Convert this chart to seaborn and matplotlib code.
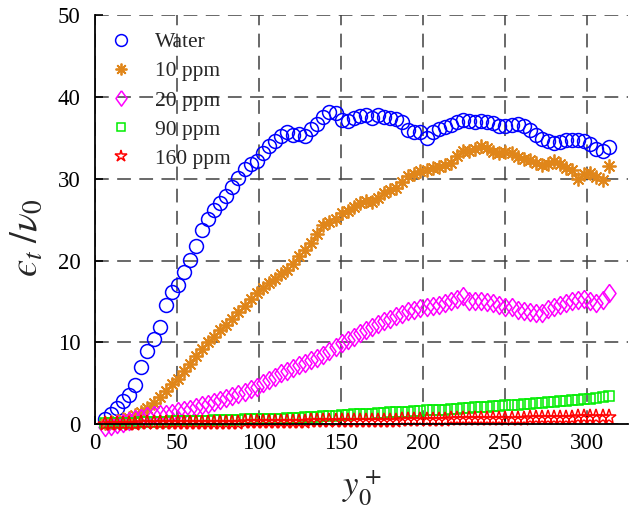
import numpy as np
import pandas as pd
import matplotlib
matplotlib.use("Agg")
import matplotlib.pyplot as plt
import seaborn as sns

# ---------------- data ----------------
y_plus = [6.0, 9.7, 13.4, 17.1, 20.8, 24.5, 28.2, 31.9, 35.6, 39.3,
          43.0, 46.7, 50.4, 54.1, 57.8, 61.5, 65.2, 68.9, 72.6, 76.3,
          80.0, 83.7, 87.4, 91.1, 94.8, 98.5, 102.2, 105.9, 109.6, 113.3,
          117.0, 120.7, 124.4, 128.1, 131.8, 135.5, 139.2, 142.9, 146.6, 150.3,
          154.0, 157.7, 161.4, 165.1, 168.8, 172.5, 176.2, 179.9, 183.6, 187.3,
          191.0, 194.7, 198.4, 202.1, 205.8, 209.5, 213.2, 216.9, 220.6, 224.3,
          228.0, 231.7, 235.4, 239.1, 242.8, 246.5, 250.2, 253.9, 257.6, 261.3,
          265.0, 268.7, 272.4, 276.1, 279.8, 283.5, 287.2, 290.9, 294.6, 298.3,
          302.0, 305.7, 309.4, 313.1]

water = [0.7, 1.3, 2.0, 2.8, 3.6, 4.8, 7.0, 9.0, 10.4, 11.9,
         14.6, 16.2, 17.0, 18.6, 20.1, 21.8, 23.7, 25.1, 26.2, 27.0,
         27.9, 29.0, 30.1, 31.2, 31.8, 32.2, 33.1, 34.0, 34.6, 35.2,
         35.7, 35.3, 35.5, 35.2, 36.1, 36.7, 37.5, 38.2, 38.0, 37.2,
         37.1, 37.4, 37.7, 37.8, 37.4, 37.8, 37.5, 37.4, 37.3, 36.9,
         35.9, 35.7, 35.7, 35.0, 35.7, 36.1, 36.3, 36.6, 36.9, 37.2,
         37.0, 36.9, 37.1, 36.9, 36.8, 36.4, 36.4, 36.6, 36.7, 36.4,
         36.0, 35.3, 34.9, 34.6, 34.4, 34.5, 34.7, 34.7, 34.7, 34.6,
         34.3, 33.6, 33.4, 33.9]

ppm10 = [0.2, 0.3, 0.4, 0.6, 0.8, 1.1, 1.5, 2.0, 2.6, 3.3,
         4.1, 4.9, 5.5, 6.5, 7.4, 8.3, 9.2, 10.1, 10.7, 11.5,
         12.1, 12.9, 13.7, 14.5, 15.3, 16.0, 16.6, 17.2, 17.7, 18.4,
         18.9, 19.6, 20.5, 21.3, 22.2, 23.2, 24.3, 24.7, 25.1, 25.8,
         26.1, 26.5, 27.0, 27.3, 27.1, 27.6, 28.2, 28.6, 28.9, 29.6,
         30.3, 30.6, 30.9, 31.1, 31.3, 31.4, 31.7, 31.9, 32.8, 33.4,
         33.4, 33.6, 34.0, 33.8, 33.3, 33.2, 33.3, 33.1, 32.7, 32.4,
         32.3, 31.9, 31.7, 31.8, 32.2, 31.8, 31.3, 31.1, 30.0, 30.6,
         30.7, 30.2, 29.9, 31.6]

ppm20 = [-0.3, -0.2, 0.0, 0.2, 0.4, 0.6, 0.8, 1.0, 1.1, 1.2,
         1.3, 1.4, 1.6, 1.8, 1.9, 2.1, 2.3, 2.5, 2.7, 3.0,
         3.2, 3.4, 3.7, 4.0, 4.3, 4.6, 5.0, 5.4, 5.8, 6.2,
         6.5, 6.9, 7.2, 7.5, 7.8, 8.1, 8.5, 8.9, 9.4, 9.9,
         10.3, 10.7, 11.1, 11.5, 11.9, 12.2, 12.6, 12.9, 13.2, 13.5,
         13.8, 14.0, 14.2, 14.3, 14.5, 14.6, 14.8, 15.0, 15.3, 15.7,
         15.0, 15.1, 15.1, 14.9, 14.8, 14.6, 14.3, 14.3, 13.9, 13.8,
         13.7, 13.6, 13.6, 14.1, 14.3, 14.6, 14.8, 15.0, 15.2, 15.3,
         15.0, 14.8, 15.2, 16.0]

ppm90 = [0.1, 0.1, 0.15, 0.2, 0.2, 0.2, 0.25, 0.25, 0.3, 0.3,
         0.3, 0.35, 0.35, 0.4, 0.4, 0.4, 0.45, 0.45, 0.5, 0.5,
         0.5, 0.55, 0.55, 0.6, 0.6, 0.6, 0.65, 0.65, 0.7, 0.7,
         0.75, 0.8, 0.8, 0.85, 0.9, 0.9, 0.95, 1.0, 1.05, 1.1,
         1.15, 1.2, 1.25, 1.3, 1.3, 1.35, 1.4, 1.45, 1.5, 1.5,
         1.55, 1.6, 1.65, 1.7, 1.75, 1.8, 1.8, 1.85, 1.9, 1.95,
         2.0, 2.05, 2.1, 2.15, 2.2, 2.25, 2.3, 2.35, 2.4, 2.45,
         2.5, 2.6, 2.65, 2.7, 2.75, 2.8, 2.9, 2.95, 3.0, 3.05,
         3.1, 3.2, 3.3, 3.4]

ppm160 = [0.0, 0.0, 0.0, 0.05, 0.05, 0.05, 0.1, 0.1, 0.1, 0.1,
          0.1, 0.1, 0.1, 0.15, 0.15, 0.15, 0.15, 0.15, 0.2, 0.2,
          0.2, 0.2, 0.2, 0.25, 0.25, 0.25, 0.25, 0.25, 0.3, 0.3,
          0.3, 0.3, 0.3, 0.3, 0.35, 0.35, 0.35, 0.35, 0.35, 0.35,
          0.4, 0.4, 0.4, 0.4, 0.4, 0.45, 0.45, 0.45, 0.45, 0.5,
          0.5, 0.5, 0.5, 0.55, 0.55, 0.55, 0.55, 0.6, 0.6, 0.6,
          0.6, 0.65, 0.65, 0.65, 0.65, 0.7, 0.7, 0.7, 0.7, 0.7,
          0.75, 0.75, 0.75, 0.75, 0.8, 0.8, 0.8, 0.8, 0.85, 0.85,
          0.85, 0.85, 0.9, 0.9]

series_names = ["Water", "10 ppm", "20 ppm", "90 ppm", "160 ppm"]
series_values = [water, ppm10, ppm20, ppm90, ppm160]
x_ticks = [0, 50, 100, 150, 200, 250, 300]
y_ticks = [0, 10, 20, 30, 40, 50]

# ---------------- style ----------------
sns.set_theme(style="white")
plt.rcParams["font.family"] = ["Liberation Serif", "DejaVu Serif"]
plt.rcParams["mathtext.fontset"] = "stix"

tall_diamond = [(0, 1), (0.72, 0), (0, -1), (-0.72, 0), (0, 1)]
styles = {
    "Water":   dict(marker="o", color="#0000FF", ms=10, mfc="none", mew=1.1),
    "10 ppm":  dict(marker=(8, 2, 0), color="#E0861A", ms=10, mew=1.3),
    "20 ppm":  dict(marker=tall_diamond, color="#FF00FF", ms=13, mfc="none", mew=1.1),
    "90 ppm":  dict(marker="s", color="#00EE00", ms=7.5, mfc="none", mew=1.1),
    "160 ppm": dict(marker="*", color="#FF0000", ms=11, mfc="none", mew=1.1),
}

frames = []
for name, vals in zip(series_names, series_values):
    frames.append(pd.DataFrame({"y_plus": y_plus, "eps": vals, "series": name}))
df = pd.concat(frames, ignore_index=True)

fig = plt.figure(figsize=(6.3, 5.18), dpi=100)
ax = fig.add_axes([0.151, 0.181, 0.846, 0.790])

for name in series_names:
    sub = df[df["series"] == name]
    st = styles[name]
    sns.lineplot(data=sub, x="y_plus", y="eps", ax=ax, linestyle="", label=name,
                 marker=st["marker"], color=st["color"], markersize=st["ms"],
                 markerfacecolor=st.get("mfc", st["color"]),
                 markeredgecolor=st["color"], markeredgewidth=st["mew"],
                 errorbar=None, estimator=None, sort=False, clip_on=False)

ax.set_xlim(0, 325)
ax.set_ylim(0, 50)
ax.set_xticks(x_ticks)
ax.set_yticks(y_ticks)
ax.tick_params(axis="both", direction="in", length=6, width=1.2, labelsize=16.5,
               colors="black")
ax.tick_params(axis="x", pad=6)
ax.tick_params(axis="y", pad=10.5)
ax.tick_params(axis="both", which="both", top=False, right=False, bottom=True, left=True)
ax.grid(True, color="#404040", linestyle=(0, (9, 5.5)), linewidth=1.1)
ax.set_axisbelow(True)
for s in ["top", "right"]:
    ax.spines[s].set_visible(False)
for s in ["left", "bottom"]:
    ax.spines[s].set_color("black")
    ax.spines[s].set_linewidth(1.3)

ax.set_xlabel(r"$y_0^+$", fontsize=25, labelpad=10)
ax.set_ylabel("$\u03f5_t\\;/\\nu_0$", fontsize=28)
ax.yaxis.set_label_coords(-0.092, 0.455)

leg = ax.legend(loc="upper left", frameon=False, fontsize=15.5, handletextpad=0.9,
                borderaxespad=0.4, labelspacing=0.42, handlelength=1.4,
                bbox_to_anchor=(-0.012, 1.0))
for h in leg.legend_handles:
    h.set_markersize(h.get_markersize() * 0.85)

fig.savefig("out.png", dpi=100)
